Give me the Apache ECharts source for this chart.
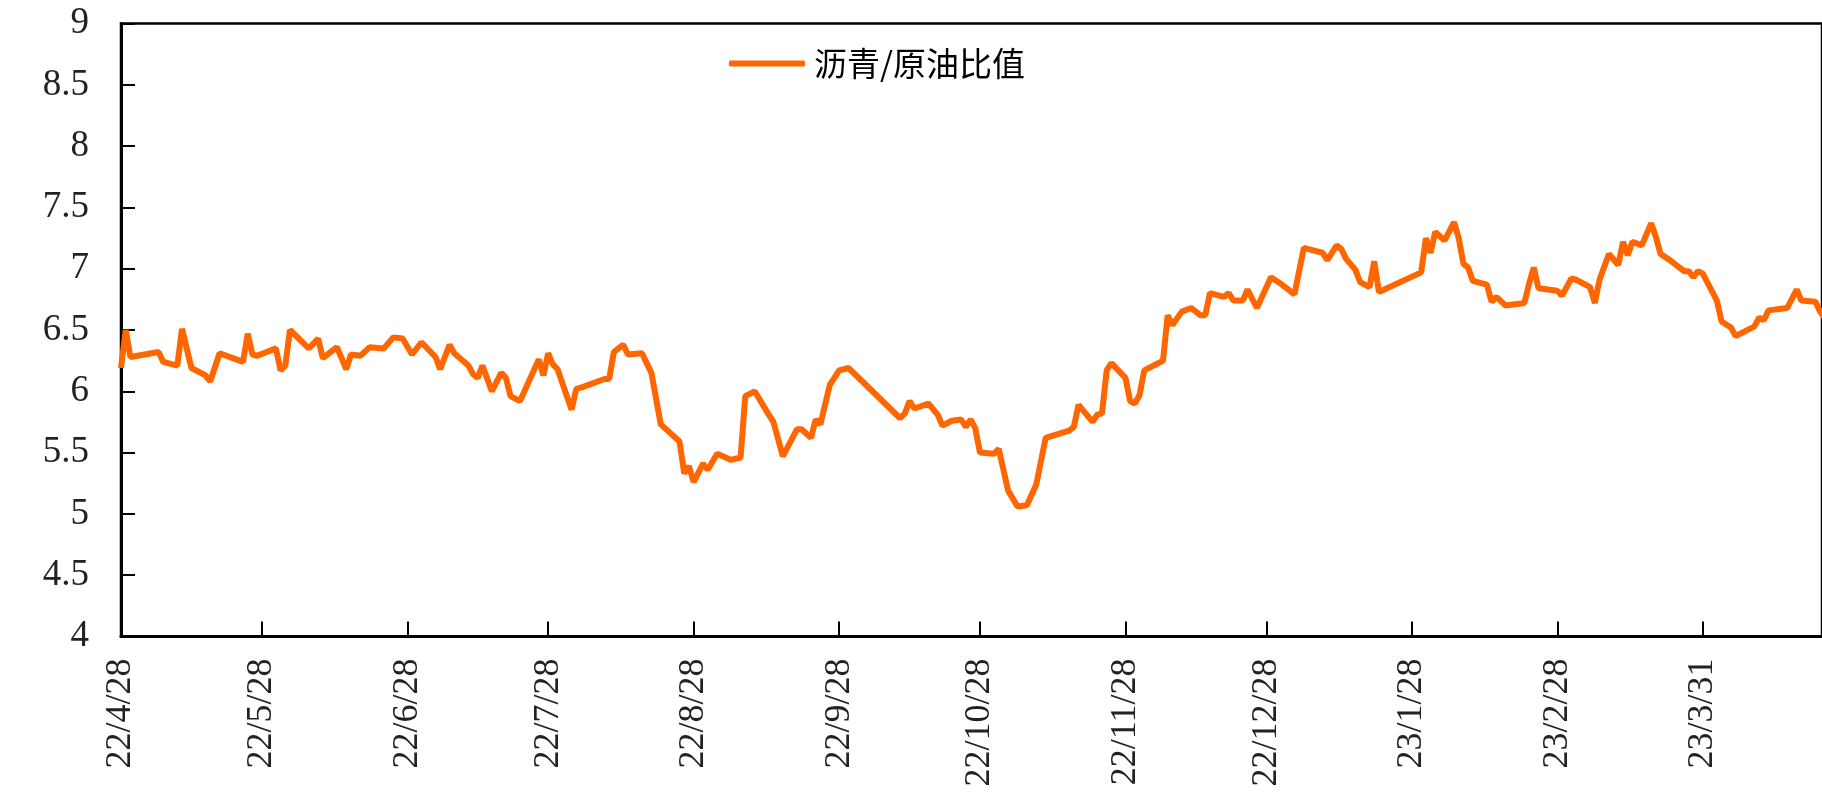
<!DOCTYPE html>
<html>
<head>
<meta charset="utf-8">
<title>沥青/原油比值</title>
<script src="https://cdn.jsdelivr.net/npm/echarts@6/dist/echarts.min.js"></script>
<style>
  html, body { margin: 0; padding: 0; background: #fff; }
  #chart { width: 1822px; height: 803px; }
</style>
</head>
<body>
<div id="chart"></div>
<script>
// 沥青/原油比值 日期
const dates = [
  '2022-04-28', '2022-04-29', '2022-04-30', '2022-05-06', '2022-05-07', '2022-05-10', '2022-05-11', '2022-05-13',
  '2022-05-16', '2022-05-17', '2022-05-19', '2022-05-24', '2022-05-25', '2022-05-26', '2022-05-27', '2022-05-31',
  '2022-06-01', '2022-06-02', '2022-06-03', '2022-06-07', '2022-06-09', '2022-06-10', '2022-06-13', '2022-06-15',
  '2022-06-16', '2022-06-18', '2022-06-20', '2022-06-23', '2022-06-25', '2022-06-27', '2022-06-29', '2022-07-01',
  '2022-07-04', '2022-07-05', '2022-07-07', '2022-07-08', '2022-07-11', '2022-07-12', '2022-07-13', '2022-07-14',
  '2022-07-16', '2022-07-18', '2022-07-19', '2022-07-20', '2022-07-22', '2022-07-26', '2022-07-27', '2022-07-28',
  '2022-07-29', '2022-07-30', '2022-08-02', '2022-08-03', '2022-08-04', '2022-08-09', '2022-08-10', '2022-08-11',
  '2022-08-13', '2022-08-14', '2022-08-17', '2022-08-18', '2022-08-19', '2022-08-21', '2022-08-25', '2022-08-26',
  '2022-08-27', '2022-08-28', '2022-08-30', '2022-08-31', '2022-09-02', '2022-09-05', '2022-09-07', '2022-09-08',
  '2022-09-10', '2022-09-13', '2022-09-14', '2022-09-16', '2022-09-19', '2022-09-20', '2022-09-22', '2022-09-23',
  '2022-09-24', '2022-09-26', '2022-09-28', '2022-09-29', '2022-09-30', '2022-10-11', '2022-10-12', '2022-10-13',
  '2022-10-14', '2022-10-17', '2022-10-19', '2022-10-20', '2022-10-22', '2022-10-24', '2022-10-25', '2022-10-26',
  '2022-10-27', '2022-10-28', '2022-10-31', '2022-11-01', '2022-11-03', '2022-11-05', '2022-11-07', '2022-11-09',
  '2022-11-11', '2022-11-16', '2022-11-17', '2022-11-18', '2022-11-21', '2022-11-22', '2022-11-23', '2022-11-24',
  '2022-11-25', '2022-11-28', '2022-11-29', '2022-11-30', '2022-12-01', '2022-12-02', '2022-12-05', '2022-12-06',
  '2022-12-07', '2022-12-08', '2022-12-10', '2022-12-12', '2022-12-14', '2022-12-15', '2022-12-16', '2022-12-19',
  '2022-12-20', '2022-12-21', '2022-12-23', '2022-12-24', '2022-12-26', '2022-12-29', '2022-12-31', '2023-01-03',
  '2023-01-05', '2023-01-07', '2023-01-09', '2023-01-10', '2023-01-12', '2023-01-13', '2023-01-14', '2023-01-16',
  '2023-01-17', '2023-01-19', '2023-01-20', '2023-01-21', '2023-01-30', '2023-01-31', '2023-02-01', '2023-02-02',
  '2023-02-04', '2023-02-06', '2023-02-07', '2023-02-08', '2023-02-09', '2023-02-10', '2023-02-13', '2023-02-14',
  '2023-02-15', '2023-02-17', '2023-02-21', '2023-02-22', '2023-02-23', '2023-02-24', '2023-02-28', '2023-03-01',
  '2023-03-03', '2023-03-04', '2023-03-07', '2023-03-08', '2023-03-09', '2023-03-11', '2023-03-13', '2023-03-14',
  '2023-03-15', '2023-03-16', '2023-03-18', '2023-03-20', '2023-03-21', '2023-03-22', '2023-03-24', '2023-03-27',
  '2023-03-28', '2023-03-29', '2023-03-30', '2023-03-31', '2023-04-03', '2023-04-04', '2023-04-06', '2023-04-07',
  '2023-04-11', '2023-04-12', '2023-04-13', '2023-04-14', '2023-04-18', '2023-04-20', '2023-04-21', '2023-04-24',
  '2023-04-25', '2023-04-26'
]
// 比值
const ratio = [
  6.19, 6.50, 6.28, 6.32, 6.24, 6.21, 6.51, 6.19,
  6.13, 6.08, 6.31, 6.24, 6.47, 6.30, 6.29, 6.35,
  6.17, 6.21, 6.50, 6.35, 6.43, 6.27, 6.36, 6.18,
  6.30, 6.29, 6.36, 6.35, 6.44, 6.43, 6.30, 6.40,
  6.28, 6.18, 6.38, 6.31, 6.21, 6.14, 6.11, 6.21,
  6.00, 6.15, 6.11, 5.96, 5.92, 6.26, 6.13, 6.31,
  6.22, 6.18, 5.85, 6.02, 6.03, 6.10, 6.10, 6.32,
  6.38, 6.30, 6.31, 6.23, 6.15, 5.73, 5.59, 5.33,
  5.39, 5.26, 5.41, 5.36, 5.49, 5.44, 5.46, 5.96,
  6.00, 5.81, 5.75, 5.47, 5.69, 5.69, 5.62, 5.77,
  5.73, 6.05, 6.17, 6.18, 6.19, 5.78, 5.82, 5.92,
  5.86, 5.90, 5.81, 5.72, 5.76, 5.77, 5.71, 5.77,
  5.70, 5.50, 5.49, 5.53, 5.19, 5.06, 5.07, 5.24,
  5.62, 5.68, 5.71, 5.89, 5.75, 5.81, 5.82, 6.17,
  6.23, 6.11, 5.92, 5.90, 5.97, 6.17, 6.23, 6.25,
  6.62, 6.54, 6.65, 6.68, 6.62, 6.62, 6.80, 6.77,
  6.80, 6.74, 6.74, 6.83, 6.68, 6.93, 6.88, 6.79,
  7.17, 7.15, 7.13, 7.07, 7.19, 7.16, 7.08, 6.99,
  6.89, 6.85, 7.06, 6.81, 6.97, 7.25, 7.13, 7.30,
  7.23, 7.38, 7.25, 7.04, 7.01, 6.90, 6.87, 6.73,
  6.77, 6.70, 6.72, 6.88, 7.01, 6.84, 6.82, 6.78,
  6.92, 6.91, 6.85, 6.72, 6.91, 7.12, 7.03, 7.22,
  7.11, 7.22, 7.19, 7.37, 7.26, 7.12, 7.07, 6.98,
  6.98, 6.93, 6.98, 6.96, 6.74, 6.57, 6.52, 6.45,
  6.53, 6.60, 6.58, 6.66, 6.68, 6.83, 6.74, 6.73,
  6.65, 6.60
]
// X轴刻度
const tickDates = [
  '2022-04-28', '2022-05-28', '2022-06-28', '2022-07-28', '2022-08-28', '2022-09-28',
  '2022-10-28', '2022-11-28', '2022-12-28', '2023-01-28', '2023-02-28', '2023-03-31'
]
const legendName = '沥青/原油比值'

const toTime = (s) => new Date(s.replace(/-/g, '/')).getTime()
const DAY = 86400000
const tickValues = tickDates.map(toTime)

const myChart = echarts.init(document.getElementById('chart'))

const option = {
  animation: false,
  color: ['#FF6600'],
  legend: {
    data: [legendName],
    left: 724,
    top: 42,
    icon: 'roundRect',
    itemWidth: 76,
    itemHeight: 6,
    itemGap: 10,
    textStyle: {
      color: '#000',
      fontSize: 33,
      fontFamily: 'Noto Sans CJK SC',
      padding: [0, 0, 0, 4],
    },
  },
  grid: {
    left: 121,
    right: -3,
    top: 23.5,
    bottom: 166.5,
    show: true,
    borderColor: '#000',
    borderWidth: 2.5,
  },
  xAxis: {
    // 日期轴用数值轴（时间戳）+ 自定义刻度
    type: 'value',
    min: toTime('2022-04-28'),
    max: toTime('2023-04-25') + 0.4 * DAY,
    splitLine: { show: false },
    axisLine: { lineStyle: { color: '#000', width: 3 } },
    axisTick: {
      inside: true,
      length: 15,
      lineStyle: { color: '#000', width: 2 },
      customValues: tickValues,
    },
    axisLabel: {
      rotate: 90,
      margin: 22,
      color: '#222',
      fontSize: 36,
      fontFamily: 'Liberation Serif',
      customValues: tickValues,
      formatter: (val) => {
        const d = new Date(val)
        return String(d.getFullYear()).slice(2) + '/' + (d.getMonth() + 1) + '/' + d.getDate()
      },
    },
  },
  yAxis: {
    type: 'value',
    min: 4,
    max: 9,
    interval: 0.5,
    splitLine: { show: false },
    axisLine: { show: true, lineStyle: { color: '#000', width: 3 } },
    axisTick: {
      show: true,
      inside: true,
      length: 14,
      lineStyle: { color: '#000', width: 2 },
    },
    axisLabel: {
      margin: 32,
      color: '#222',
      fontSize: 37,
      fontFamily: 'Liberation Serif',
    },
  },
  series: [
    {
      name: legendName,
      type: 'line',
      symbol: 'none',
      lineStyle: { width: 6, color: '#FF6600' },
      data: dates.map((d, i) => [toTime(d), ratio[i]]),
    },
  ],
}
myChart.setOption(option)
</script>
</body>
</html>
